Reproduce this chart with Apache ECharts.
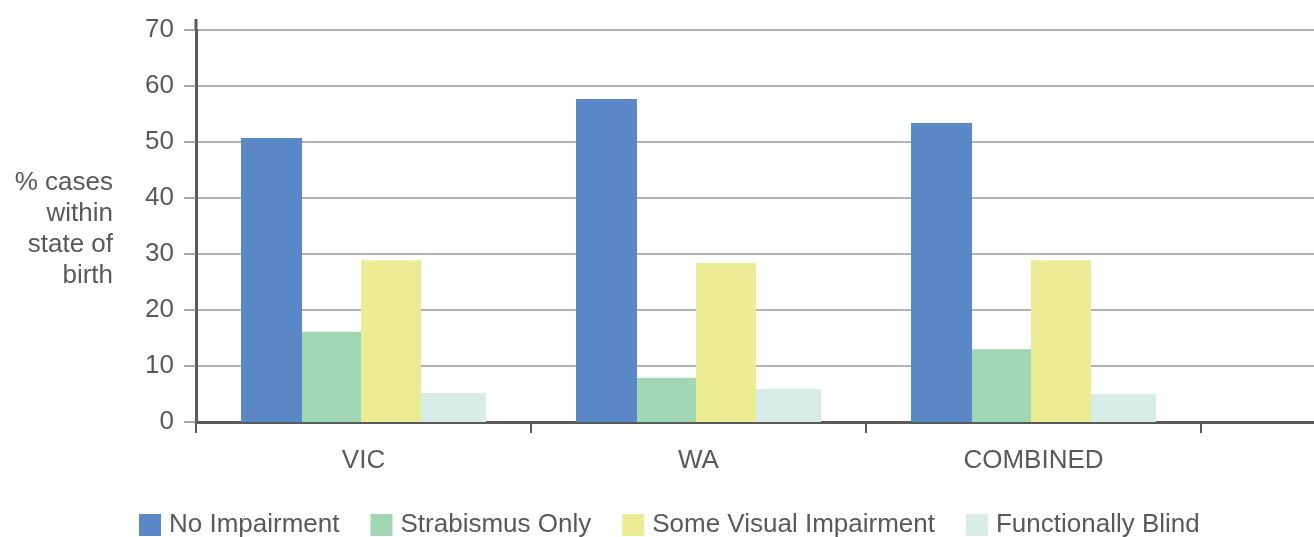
<!DOCTYPE html>
<html>
<head>
<meta charset="utf-8">
<title>Visual outcome by state of birth</title>
<script src="https://cdn.jsdelivr.net/npm/echarts@6/dist/echarts.min.js"></script>
<style>
  html, body { margin: 0; padding: 0; background: #fff; }
  #chart { width: 1314px; height: 537px; }
</style>
</head>
<body>
<div id="chart"></div>
<script>
// Categories (the trailing blank slot keeps the axis running on past COMBINED)
const categories = ['VIC', 'WA', 'COMBINED', ''];

// % of cases within each state of birth
const noImpairment = [50.7, 57.7, 53.4];
const strabismusOnly = [16.1, 7.9, 13.0];
const someVisualImpairment = [28.9, 28.4, 28.9];
const functionallyBlind = [5.2, 5.9, 5.0];

const seriesNames = ['No Impairment', 'Strabismus Only', 'Some Visual Impairment', 'Functionally Blind'];
const seriesColors = ['#5a87c5', '#a1d6b5', '#ecec94', '#d9ede8'];

const yTicks = { min: 0, max: 70, interval: 10 };
const yAxisTitle = '% cases\nwithin\nstate of\nbirth';

const FONT = '"Liberation Sans", Arial, Helvetica, sans-serif';
const TEXT = '#595959';
const AXIS_DARK = '#5a5a5a';
const GRID_LEFT = 196;

const chart = echarts.init(document.getElementById('chart'), null, { renderer: 'canvas' });

const option = {
  animation: false,
  backgroundColor: '#fff',
  textStyle: { fontFamily: FONT },
  // plot area runs past the right edge of the canvas
  grid: { left: GRID_LEFT, top: 30, height: 392, width: 1340, outerBoundsMode: 'none', containLabel: false },
  legend: {
    left: 139,
    top: 512,
    padding: 0,
    icon: 'rect',
    itemWidth: 22,
    itemHeight: 22,
    itemGap: 31,
    textStyle: { fontSize: 26, color: TEXT, fontFamily: FONT, padding: [0, 0, 0, 3] },
    data: seriesNames
  },
  xAxis: {
    type: 'category',
    data: categories,
    boundaryGap: true,
    axisLine: { show: true, lineStyle: { color: AXIS_DARK, width: 3 } },
    axisTick: { show: true, length: 11, lineStyle: { color: AXIS_DARK, width: 2 } },
    axisLabel: { fontSize: 26, color: TEXT, fontFamily: FONT, margin: 26 },
    splitLine: { show: false }
  },
  yAxis: {
    type: 'value',
    min: yTicks.min,
    max: yTicks.max,
    interval: yTicks.interval,
    axisLine: { show: true, lineStyle: { color: AXIS_DARK, width: 3 } },
    axisTick: { show: true, length: 12, lineStyle: { color: '#8c8c8c', width: 1.5 } },
    axisLabel: { fontSize: 26, color: TEXT, fontFamily: FONT, margin: 22 },
    splitLine: { show: true, lineStyle: { color: '#9a9a9a', width: 1.5 } }
  },
  series: [
    { name: seriesNames[0], type: 'bar', data: noImpairment, barWidth: 61, barGap: '0%', itemStyle: { color: seriesColors[0] } },
    { name: seriesNames[1], type: 'bar', data: strabismusOnly, barWidth: 59, barGap: '0%', itemStyle: { color: seriesColors[1] } },
    { name: seriesNames[2], type: 'bar', data: someVisualImpairment, barWidth: 60, barGap: '0%', itemStyle: { color: seriesColors[2] } },
    { name: seriesNames[3], type: 'bar', data: functionallyBlind, barWidth: 65, barGap: '0%', itemStyle: { color: seriesColors[3] } }
  ]
};

chart.setOption(option);

// The value axis line runs a little past its top tick; the axis title sits
// to the left of the tick labels, right-aligned
const yTop = chart.convertToPixel({ yAxisIndex: 0 }, yTicks.max);
const yMid = chart.convertToPixel({ yAxisIndex: 0 }, (yTicks.min + yTicks.max) / 2);
chart.setOption({
  graphic: [
    {
      type: 'line',
      z: 10,
      shape: { x1: GRID_LEFT, y1: yTop - 11, x2: GRID_LEFT, y2: yTop },
      style: { stroke: AXIS_DARK, lineWidth: 3 }
    },
    {
      type: 'text',
      x: GRID_LEFT - 83,
      y: yMid + 3,
      style: {
        text: yAxisTitle,
        align: 'right',
        verticalAlign: 'middle',
        fontSize: 26,
        lineHeight: 31,
        fontFamily: FONT,
        fill: TEXT
      }
    }
  ]
});
</script>
</body>
</html>
